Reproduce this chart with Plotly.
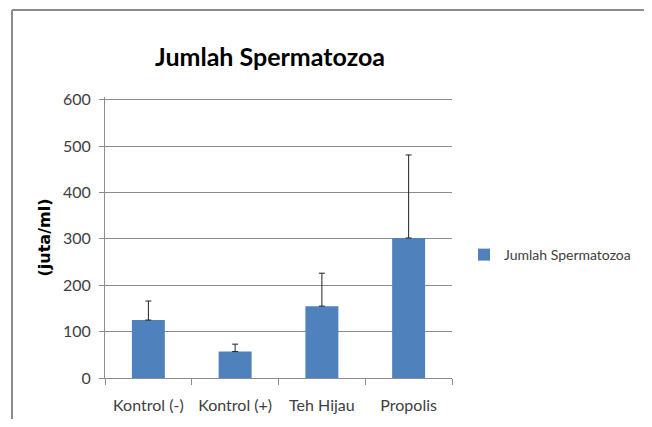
import plotly.graph_objects as go

categories = ["Kontrol (-)", "Kontrol (+)", "Teh Hijau", "Propolis"]
values = [125, 57, 155, 302]
errors = [41, 16, 71, 179]
series_name = "Jumlah Spermatozoa"
title_text = "Jumlah Spermatozoa"
y_title = "(juta/ml)"
y_ticks = [0, 100, 200, 300, 400, 500, 600]

FONT = "Lato, 'Open Sans', sans-serif"
# page is rendered with an 8px body offset on every side
W, H = 636, 411
ML, MR, MT, MB = 97, W - 444, 89, H - 370
pw, ph = W - ML - MR, H - MT - MB

fig = go.Figure()
fig.add_trace(go.Bar(
    x=categories, y=values, name=series_name,
    marker=dict(color="#4F81BD", line=dict(width=0)),
    error_y=dict(type="data", array=errors, symmetric=False, arrayminus=[0]*len(errors),
                 color="#222222", thickness=1, width=3),
    showlegend=True,
))

fig.update_layout(
    width=W, height=H,
    margin=dict(l=ML, r=MR, t=MT, b=MB, autoexpand=False),
    paper_bgcolor="white", plot_bgcolor="white",
    bargap=0.62,
    title=dict(text="<b>" + title_text + "</b>", x=262 / W, xanchor="center",
               y=1 - 49 / H, yanchor="middle",
               font=dict(family=FONT, size=25, color="#000000")),
    font=dict(family=FONT, size=16, color="#404040"),
    showlegend=True,
    legend=dict(x=1 + (456 - (ML + pw)) / pw, y=(H - MB - 247) / ph, xanchor="left", yanchor="middle",
                font=dict(family=FONT, size=14, color="#404040"),
                bgcolor="rgba(0,0,0,0)", itemwidth=30, tracegroupgap=0),
    yaxis=dict(range=[0, 606], tickvals=y_ticks, showgrid=True, gridcolor="#8c8c8c", gridwidth=1,
               showline=True, linecolor="#8c8c8c", linewidth=1,
               ticks="outside", ticklen=5, tickcolor="#8c8c8c", ticklabelstandoff=5,
               tickfont=dict(size=16, color="#404040"),
               title=dict(text="<b>" + y_title + "</b>", standoff=8,
                          font=dict(family="'DejaVu Sans', sans-serif", size=16, color="#000000")),
               zeroline=False, fixedrange=True, automargin=False),
    xaxis=dict(showline=True, linecolor="#8c8c8c", linewidth=1,
               ticks="outside", ticklen=6, tickcolor="#8c8c8c", tickson="boundaries",
               ticklabelstandoff=13, tickangle=0, automargin=False,
               showgrid=False, tickfont=dict(size=16, color="#404040"), fixedrange=True),
)

# chart frame (top and left edges visible in reference)
fig.add_shape(type="line", xref="paper", yref="paper",
              x0=(4 - ML) / pw, x1=(W - ML) / pw, y0=(H - MB - 2) / ph, y1=(H - MB - 2) / ph,
              line=dict(color="#8c8c8c", width=2))
fig.add_shape(type="line", xref="paper", yref="paper",
              x0=(4 - ML) / pw, x1=(4 - ML) / pw, y0=(H - MB - 2) / ph, y1=-MB / ph,
              line=dict(color="#8c8c8c", width=2))

fig.write_html("out.html", config={"displayModeBar": False})
